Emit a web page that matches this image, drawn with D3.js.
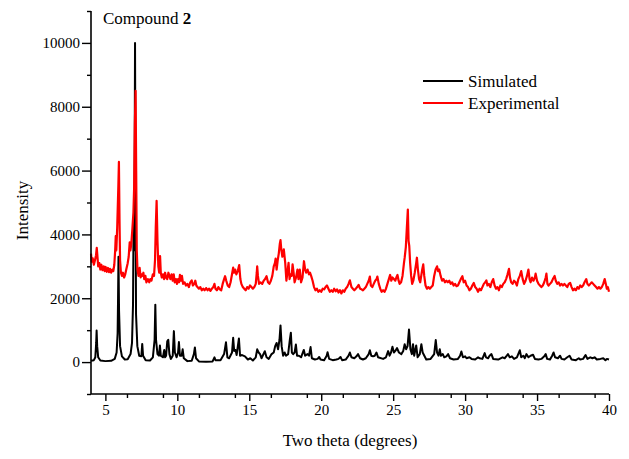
<!DOCTYPE html>
<html>
<head>
<meta charset="utf-8">
<script src="https://cdn.jsdelivr.net/npm/d3@7"></script>
<style>
  html, body { margin: 0; padding: 0; background: #fff; }
  svg { display: block; font-family: "Liberation Serif", "Times New Roman", serif; }
</style>
</head>
<body>
<svg id="chart" width="629" height="459"></svg>
<script>
// ---------------- data ----------------
const seriesNames = ["Simulated", "Experimental"];
const seriesColors = ["#000000", "#ff0000"];
const xTickValues = [5, 10, 15, 20, 25, 30, 35, 40];
const yTickValues = [0, 2000, 4000, 6000, 8000, 10000];

const simulated = [
[4.0,40],[4.2,60],[4.3,150],[4.36,600],[4.39,990],[4.43,500],[4.5,150],[4.65,50],[5.0,30],[5.4,40],[5.65,100],[5.78,300],[5.85,900],[5.88,2000],[5.91,3300],[5.95,1600],[6.02,500],[6.15,180],[6.35,80],[6.55,90],[6.75,250],[6.85,600],[6.92,1800],[6.96,4500],[7.0,3500],[7.04,7000],[7.06,10000],[7.09,6000],[7.13,1500],[7.22,500],[7.35,200],[7.5,180],[7.56,570],[7.62,200],[7.8,60],[8.1,50],[8.3,150],[8.42,700],[8.47,1800],[8.52,700],[8.62,250],[8.72,200],[8.79,520],[8.85,200],[9.0,150],[9.09,380],[9.15,150],[9.22,200],[9.3,650],[9.37,700],[9.45,250],[9.55,100],[9.68,200],[9.76,970],[9.83,300],[9.95,150],[10.05,300],[10.11,630],[10.18,200],[10.3,200],[10.37,400],[10.45,120],[10.7,30],[11.0,40],[11.15,250],[11.22,460],[11.3,120],[11.5,20],[12.0,10],[12.45,20],[12.58,150],[12.65,60],[13.0,60],[13.25,250],[13.38,620],[13.48,150],[13.6,120],[13.8,300],[13.88,760],[13.95,350],[14.05,380],[14.12,220],[14.28,740],[14.36,200],[14.5,220],[14.7,180],[14.9,80],[15.07,120],[15.25,50],[15.45,150],[15.55,400],[15.65,300],[15.75,250],[15.85,120],[16.08,340],[16.2,150],[16.35,100],[16.55,250],[16.7,300],[16.8,500],[16.9,600],[17.0,400],[17.1,700],[17.17,1150],[17.25,500],[17.35,200],[17.46,300],[17.55,200],[17.7,250],[17.82,700],[17.89,920],[17.96,300],[18.05,250],[18.15,300],[18.24,550],[18.32,200],[18.45,200],[18.6,150],[18.72,300],[18.79,380],[18.88,200],[19.05,250],[19.15,200],[19.26,470],[19.35,120],[19.56,80],[19.75,100],[19.86,160],[19.95,80],[20.2,60],[20.38,200],[20.44,310],[20.55,100],[20.8,60],[21.05,80],[21.2,100],[21.34,160],[21.45,60],[21.7,80],[21.9,200],[21.99,300],[22.1,150],[22.3,120],[22.45,180],[22.56,250],[22.7,120],[22.9,80],[23.1,120],[23.3,250],[23.38,370],[23.48,200],[23.6,180],[23.72,200],[23.84,300],[23.95,150],[24.3,100],[24.5,150],[24.65,345],[24.75,200],[24.85,300],[24.95,480],[25.05,300],[25.15,350],[25.27,440],[25.4,300],[25.57,250],[25.7,350],[25.8,560],[25.9,400],[26.0,500],[26.1,1020],[26.2,400],[26.3,250],[26.38,560],[26.46,200],[26.6,520],[26.7,150],[26.85,250],[26.96,560],[27.05,300],[27.3,80],[27.6,100],[27.85,250],[27.96,690],[28.05,300],[28.15,200],[28.24,400],[28.32,200],[28.45,250],[28.55,150],[28.7,180],[28.82,250],[28.95,120],[29.2,80],[29.5,100],[29.65,200],[29.74,330],[29.85,150],[30.0,180],[30.1,120],[30.3,150],[30.45,100],[30.7,80],[30.9,150],[31.0,120],[31.2,100],[31.36,280],[31.45,150],[31.6,120],[31.7,200],[31.83,250],[31.95,100],[32.3,80],[32.6,150],[32.75,120],[32.9,200],[32.98,250],[33.1,150],[33.25,180],[33.4,100],[33.6,150],[33.8,370],[33.9,150],[34.05,200],[34.15,120],[34.26,250],[34.4,150],[34.55,200],[34.72,230],[34.85,100],[35.1,80],[35.3,100],[35.5,180],[35.6,250],[35.7,100],[35.9,80],[36.05,200],[36.15,300],[36.25,150],[36.45,120],[36.6,200],[36.7,100],[36.9,80],[37.1,150],[37.26,200],[37.4,80],[37.7,60],[37.9,120],[38.0,80],[38.2,100],[38.37,220],[38.5,100],[38.7,150],[38.85,120],[39.0,150],[39.15,80],[39.4,100],[39.6,120],[39.75,60],[39.85,100],[40.0,80]
];

const experimental = [
[4.0,3400],[4.05,3150],[4.12,3250],[4.2,3050],[4.28,3200],[4.35,3350],[4.4,3580],[4.45,3300],[4.5,3000],[4.58,3100],[4.65,2900],[4.72,3050],[4.8,2880],[4.88,3000],[4.95,2850],[5.02,2980],[5.1,2830],[5.18,2950],[5.25,2820],[5.32,2920],[5.4,2800],[5.48,2900],[5.55,2850],[5.62,3050],[5.68,3500],[5.72,3950],[5.76,3500],[5.82,4200],[5.9,5500],[5.94,6270],[5.98,4500],[6.02,3200],[6.08,2800],[6.15,2700],[6.22,2800],[6.3,2650],[6.38,2750],[6.45,2900],[6.55,3100],[6.62,3300],[6.69,3750],[6.74,3500],[6.8,3700],[6.88,4200],[6.95,4700],[7.0,5500],[7.05,7500],[7.1,8500],[7.14,6000],[7.18,3500],[7.23,2900],[7.3,2700],[7.38,2950],[7.45,2650],[7.52,2750],[7.6,2700],[7.64,2800],[7.7,2600],[7.78,2700],[7.85,2500],[7.95,2600],[8.05,2500],[8.12,2600],[8.2,2550],[8.3,2750],[8.38,2700],[8.45,3200],[8.5,4200],[8.56,5050],[8.62,3800],[8.68,3000],[8.74,2800],[8.8,3320],[8.85,2800],[8.92,2650],[9.0,2750],[9.08,2600],[9.15,2800],[9.22,2650],[9.3,2600],[9.38,2800],[9.45,2700],[9.52,2600],[9.6,2750],[9.68,2550],[9.75,2750],[9.82,2500],[9.9,2600],[9.98,2450],[10.05,2600],[10.12,2500],[10.18,2730],[10.25,2550],[10.32,2700],[10.4,2450],[10.5,2500],[10.6,2400],[10.7,2450],[10.8,2350],[10.9,2500],[11.0,2560],[11.08,2400],[11.18,2450],[11.25,2550],[11.32,2400],[11.4,2350],[11.5,2300],[11.6,2350],[11.7,2250],[11.8,2300],[11.9,2250],[12.0,2320],[12.1,2250],[12.2,2300],[12.3,2230],[12.4,2300],[12.5,2350],[12.58,2450],[12.65,2300],[12.75,2250],[12.85,2350],[12.95,2280],[13.05,2250],[13.15,2450],[13.25,2600],[13.32,2690],[13.4,2550],[13.5,2400],[13.6,2350],[13.7,2500],[13.8,2750],[13.88,2960],[13.95,2800],[14.02,2900],[14.1,2750],[14.2,2850],[14.3,3040],[14.38,2600],[14.45,2450],[14.55,2350],[14.65,2300],[14.75,2250],[14.85,2350],[14.95,2300],[15.05,2400],[15.15,2350],[15.25,2300],[15.35,2350],[15.45,2450],[15.52,2800],[15.55,3000],[15.6,2700],[15.68,2450],[15.78,2500],[15.9,2450],[16.0,2550],[16.1,2600],[16.2,2690],[16.3,2500],[16.4,2450],[16.5,2550],[16.6,2700],[16.7,3000],[16.78,3100],[16.83,3240],[16.9,2900],[16.98,3200],[17.05,3400],[17.12,3700],[17.17,3820],[17.22,3550],[17.3,3300],[17.4,3530],[17.5,3100],[17.58,2550],[17.65,2800],[17.73,3110],[17.8,2600],[17.88,2750],[17.95,2700],[18.01,3060],[18.08,2800],[18.15,2500],[18.25,2650],[18.35,2900],[18.42,2600],[18.51,2900],[18.6,2500],[18.7,2650],[18.8,3160],[18.88,2900],[18.95,2800],[19.05,2900],[19.15,2750],[19.22,2800],[19.3,2700],[19.4,2550],[19.5,2350],[19.6,2250],[19.7,2300],[19.8,2200],[19.9,2250],[20.0,2200],[20.1,2300],[20.2,2280],[20.3,2350],[20.4,2400],[20.5,2300],[20.6,2200],[20.7,2250],[20.8,2200],[20.9,2300],[21.0,2220],[21.1,2280],[21.2,2180],[21.3,2250],[21.4,2150],[21.5,2250],[21.6,2200],[21.7,2300],[21.8,2350],[21.9,2450],[21.99,2560],[22.1,2350],[22.2,2300],[22.3,2250],[22.4,2300],[22.5,2350],[22.6,2420],[22.7,2300],[22.8,2280],[22.9,2250],[23.0,2300],[23.1,2350],[23.2,2450],[23.3,2550],[23.38,2680],[23.45,2400],[23.55,2350],[23.65,2450],[23.75,2550],[23.85,2600],[23.9,2680],[24.0,2450],[24.1,2300],[24.2,2200],[24.3,2250],[24.4,2200],[24.5,2300],[24.6,2450],[24.7,2600],[24.79,2730],[24.87,2550],[24.95,2650],[25.05,2600],[25.15,2550],[25.22,2650],[25.3,2730],[25.38,2550],[25.45,2450],[25.55,2500],[25.65,2700],[25.75,3100],[25.8,3270],[25.88,3600],[25.95,4200],[26.02,4780],[26.07,3800],[26.12,3630],[26.18,3100],[26.25,2700],[26.32,2450],[26.4,2550],[26.5,2800],[26.6,3100],[26.65,3270],[26.72,2900],[26.8,2600],[26.88,2500],[26.95,2700],[27.02,2900],[27.09,3060],[27.16,2700],[27.25,2400],[27.35,2300],[27.45,2350],[27.55,2300],[27.65,2350],[27.75,2400],[27.85,2700],[27.95,2900],[28.05,3000],[28.12,2850],[28.2,2900],[28.3,2700],[28.4,2550],[28.5,2600],[28.6,2500],[28.7,2550],[28.8,2500],[28.9,2550],[29.0,2450],[29.1,2500],[29.2,2400],[29.3,2450],[29.4,2380],[29.5,2400],[29.6,2500],[29.7,2600],[29.81,2690],[29.9,2500],[30.0,2550],[30.1,2400],[30.2,2350],[30.3,2250],[30.4,2300],[30.5,2400],[30.6,2480],[30.7,2350],[30.8,2300],[30.9,2200],[31.0,2300],[31.1,2250],[31.2,2350],[31.3,2450],[31.4,2500],[31.48,2560],[31.55,2400],[31.65,2450],[31.75,2350],[31.85,2500],[31.95,2600],[32.05,2400],[32.15,2300],[32.25,2350],[32.35,2250],[32.45,2400],[32.55,2350],[32.65,2450],[32.75,2500],[32.85,2600],[32.95,2750],[33.05,2920],[33.12,2650],[33.2,2500],[33.3,2450],[33.4,2550],[33.5,2500],[33.6,2400],[33.7,2600],[33.8,2700],[33.9,2850],[34.0,2600],[34.1,2450],[34.2,2550],[34.3,2700],[34.4,2900],[34.48,2600],[34.55,2500],[34.65,2650],[34.75,2550],[34.85,2650],[34.9,2770],[35.0,2550],[35.1,2450],[35.2,2400],[35.3,2350],[35.4,2400],[35.5,2500],[35.6,2650],[35.65,2770],[35.72,2450],[35.8,2400],[35.9,2450],[36.0,2500],[36.1,2600],[36.22,2700],[36.3,2550],[36.4,2450],[36.5,2500],[36.6,2400],[36.7,2450],[36.8,2400],[36.9,2450],[37.0,2400],[37.1,2350],[37.2,2450],[37.3,2480],[37.4,2350],[37.5,2250],[37.6,2300],[37.7,2250],[37.8,2350],[37.9,2300],[38.0,2400],[38.1,2350],[38.2,2400],[38.3,2500],[38.42,2600],[38.5,2450],[38.6,2400],[38.7,2450],[38.8,2500],[38.9,2450],[39.0,2400],[39.1,2350],[39.2,2300],[39.3,2350],[39.4,2300],[39.5,2350],[39.6,2450],[39.7,2600],[39.78,2450],[39.85,2300],[39.92,2350],[40.0,2200]
];

// ---------------- layout ----------------
const svg = d3.select("#chart");
const margin = { left: 91, right: 20, top: 11, bottom: 65 };
const W = 629, H = 459;

const x = d3.scaleLinear().domain([4, 40]).range([margin.left, W - margin.right]);
const y = d3.scaleLinear().domain([-1000, 11000]).range([H - margin.bottom, margin.top]);

const line = d3.line().x(d => x(d[0])).y(d => y(d[1]));

svg.append("path").datum(simulated)
  .attr("d", line).attr("fill", "none")
  .attr("stroke", seriesColors[0]).attr("stroke-width", 2).attr("stroke-linejoin", "round");

svg.append("path").datum(experimental)
  .attr("d", line).attr("fill", "none")
  .attr("stroke", seriesColors[1]).attr("stroke-width", 2.2).attr("stroke-linejoin", "round");

// axes
const fmt = d3.format("d");
const xAxis = d3.axisBottom(x).tickValues(xTickValues).tickFormat(fmt).tickSize(7).tickPadding(3);
const xMinor = d3.axisBottom(x).tickValues(d3.range(4, 40.01, 2.5).filter(v => v % 5 !== 0 && v > 4)).tickFormat("").tickSize(4);
const yAxis = d3.axisLeft(y).tickValues(yTickValues).tickFormat(fmt).tickSize(9).tickPadding(2);
const yMinor = d3.axisLeft(y).tickValues([-1000, 1000, 3000, 5000, 7000, 9000, 11000]).tickFormat("").tickSize(4);

function style(g) {
  g.select(".domain").attr("stroke", "#000").attr("stroke-width", 1.6);
  g.selectAll(".tick line").attr("stroke", "#000").attr("stroke-width", 1.4);
  g.selectAll(".tick text").attr("fill", "#000").style("font-size", "15px")
    .style("font-family", '"Liberation Serif", "Times New Roman", serif');
}

const gx = svg.append("g").attr("transform", `translate(0,${y(-1000)})`).call(xAxis).call(style);
svg.append("g").attr("transform", `translate(0,${y(-1000)})`).call(xMinor).call(style).select(".domain").remove();
const gy = svg.append("g").attr("transform", `translate(${x(4)},0)`).call(yAxis).call(style);
svg.append("g").attr("transform", `translate(${x(4)},0)`).call(yMinor).call(style).select(".domain").remove();
gx.select(".domain").attr("d", `M${x(4)},0H${x(40)}`);
gy.select(".domain").attr("d", `M0,${y(11000)}V${y(-1000)}`);

// axis titles
svg.append("text").attr("x", (x(4) + x(40)) / 2).attr("y", 446)
  .attr("text-anchor", "middle").style("font-size", "17px").text("Two theta (degrees)");
svg.append("text").attr("transform", `translate(28,${(y(11000) + y(-1000)) / 2 + 8}) rotate(-90)`)
  .attr("text-anchor", "middle").style("font-size", "17px").text("Intensity");

// title inside plot
const t = svg.append("text").attr("x", 103).attr("y", 24).style("font-size", "17px");
t.append("tspan").text("Compound ");
t.append("tspan").style("font-weight", "bold").text("2");

// legend
const legend = svg.append("g");
seriesNames.forEach((name, i) => {
  const ly = 81 + i * 22;
  legend.append("line").attr("x1", 423).attr("x2", 463).attr("y1", ly).attr("y2", ly)
    .attr("stroke", seriesColors[i]).attr("stroke-width", 2);
  legend.append("text").attr("x", 468).attr("y", ly + 6).style("font-size", "17px").text(name);
});
</script>
</body>
</html>
